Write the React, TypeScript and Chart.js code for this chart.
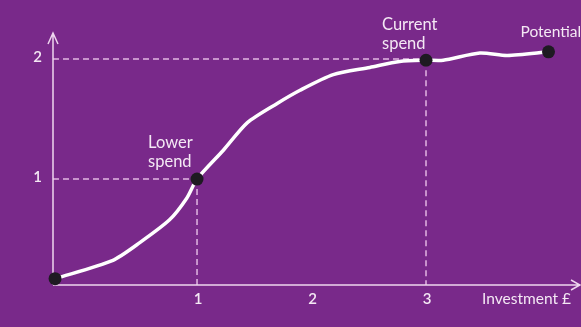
import React, { useEffect, useRef } from "react";
import { Chart, registerables } from "chart.js";

Chart.register(...registerables);

// ---- data ----
const curveX = [-0.24, 0.26, 0.5, 0.76, 0.91, 1.0, 1.23, 1.44, 1.7, 1.9, 2.19, 2.51, 2.77, 3.0, 3.15, 3.47, 3.71, 4.07];
const curveY = [0.17, 0.32, 0.47, 0.66, 0.84, 1.0, 1.24, 1.47, 1.63, 1.74, 1.87, 1.93, 1.98, 1.99, 1.99, 2.05, 2.03, 2.06];

const markerX = [-0.24, 1, 3, 4.07];
const markerY = [0.17, 1, 1.99, 2.06];
const markerLabels = ["", "Lower\nspend", "Current\nspend", "Potential"];
const guideMarkers = [1, 2];

const xTickValues = [1, 2, 3];
const xTickLabels = ["1", "2", "3"];
const yTickValues = [1, 2];
const yTickLabels = ["1", "2"];
const xAxisTitle = "Investment £";

const BG = "#79298A";
const TEXT = "#F4E8F4";
const AXIS = "#EED6EE";
const GUIDE = "#E2B6E2";
const FONT = "Lato, 'Open Sans', sans-serif";
const LABEL_DX = [0, -49, -44, -28];
const LABEL_SIZE = [16, 16.5, 16.5, 15.5];

const overlay = {
  id: "overlay",
  beforeDatasetsDraw(chart: any) {
    const { ctx, chartArea, scales } = chart;
    const xs = scales.x, ys = scales.y;
    ctx.save();
    ctx.strokeStyle = GUIDE;
    ctx.lineWidth = 1.5;
    ctx.setLineDash([6, 4]);
    guideMarkers.forEach((i) => {
      const px = xs.getPixelForValue(markerX[i]);
      const py = ys.getPixelForValue(markerY[i]);
      const gy = ys.getPixelForValue(Math.round(markerY[i]));
      ctx.beginPath();
      ctx.moveTo(chartArea.left, gy);
      ctx.lineTo(px, gy);
      ctx.stroke();
      ctx.beginPath();
      ctx.moveTo(px, py);
      ctx.lineTo(px, chartArea.bottom);
      ctx.stroke();
    });
    ctx.setLineDash([]);
    ctx.strokeStyle = AXIS;
    ctx.lineWidth = 1.5;
    const L = chartArea.left, B = chartArea.bottom, T = chartArea.top, R = chartArea.right;
    ctx.beginPath();
    ctx.moveTo(L, B);
    ctx.lineTo(L, T);
    ctx.moveTo(L - 5, T + 11);
    ctx.lineTo(L, T);
    ctx.lineTo(L + 5, T + 11);
    ctx.moveTo(L, B);
    ctx.lineTo(R, B);
    ctx.moveTo(R - 9, B - 5);
    ctx.lineTo(R, B);
    ctx.lineTo(R - 9, B + 5);
    ctx.stroke();
    ctx.fillStyle = TEXT;
    ctx.font = `600 15px ${FONT}`;
    ctx.textBaseline = "middle";
    ctx.textAlign = "center";
    xTickValues.forEach((v, i) => {
      ctx.fillText(xTickLabels[i], xs.getPixelForValue(v) + 1, B + 14);
    });
    ctx.font = `15.5px ${FONT}`;
    ctx.textAlign = "left";
    ctx.fillText(xAxisTitle, 482, B + 14);
    ctx.font = `600 15px ${FONT}`;
    ctx.textAlign = "right";
    yTickValues.forEach((v, i) => {
      ctx.fillText(yTickLabels[i], L - 11, ys.getPixelForValue(v) - 2);
    });
    ctx.restore();
  },
  afterDatasetsDraw(chart: any) {
    const { ctx, scales } = chart;
    const xs = scales.x, ys = scales.y;
    ctx.save();
    ctx.fillStyle = TEXT;
    ctx.textBaseline = "middle";
    ctx.textAlign = "left";
    markerLabels.forEach((lab, i) => {
      if (!lab) return;
      ctx.font = `${LABEL_SIZE[i]}px ${FONT}`;
      const px = xs.getPixelForValue(markerX[i]) + LABEL_DX[i];
      const py = ys.getPixelForValue(markerY[i]);
      const lines = lab.split("\n");
      if (lines.length === 2) {
        ctx.fillText(lines[0], px, py - 36);
        ctx.fillText(lines[1], px, py - 17);
      } else {
        ctx.fillText(lines[0], px, py - 20);
      }
    });
    ctx.restore();
  },
};

export default function App() {
  const ref = useRef<HTMLCanvasElement>(null);
  useEffect(() => {
    if (!ref.current) return;
    const chart = new Chart(ref.current, {
      type: "line",
      data: {
        datasets: [
          {
            type: "scatter",
            data: markerX.map((x, i) => ({ x, y: markerY[i] })),
            pointRadius: 6.5,
            pointBackgroundColor: "#1E1A22",
            pointBorderWidth: 0,
            showLine: false,
            clip: false,
            order: 0,
          } as any,
          {
            type: "line",
            data: curveX.map((x, i) => ({ x, y: curveY[i] })),
            borderColor: "#FFFFFF",
            borderWidth: 3.5,
            pointRadius: 0,
            tension: 0.25,
            clip: false,
            order: 1,
          } as any,
        ],
      },
      options: {
        animation: false,
        responsive: false,
        maintainAspectRatio: false,
        layout: { autoPadding: false, padding: { left: 53, right: 1, top: 33, bottom: 42 } },
        plugins: { legend: { display: false }, tooltip: { enabled: false } },
        scales: {
          x: { type: "linear", min: -0.258, max: 4.345, display: false },
          y: { type: "linear", min: 0.117, max: 2.217, display: false },
        },
      },
      plugins: [overlay],
    });
    return () => chart.destroy();
  }, []);
  return (
    <div style={{ position: "fixed", left: 0, top: 0, width: 581, height: 327, background: BG }}>
      <canvas ref={ref} width={581} height={327} style={{ display: "block" }} />
    </div>
  );
}
